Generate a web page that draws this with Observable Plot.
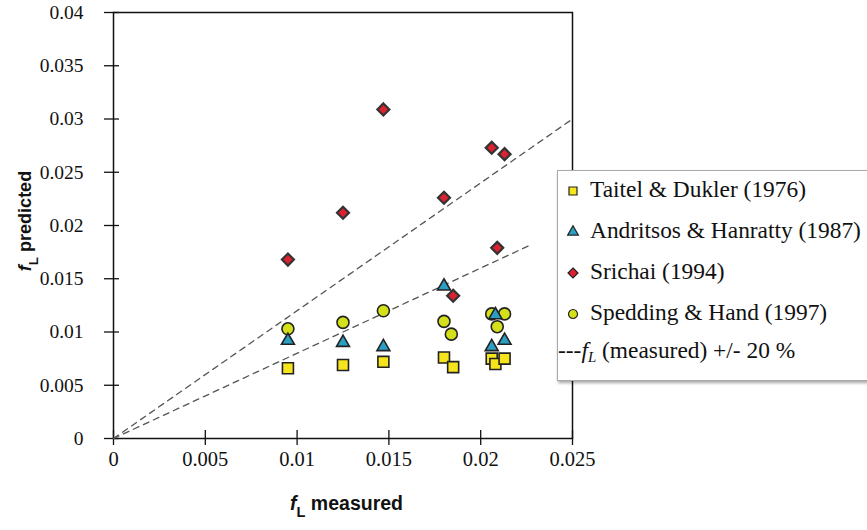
<!DOCTYPE html>
<html><head><meta charset="utf-8">
<script src="https://cdn.jsdelivr.net/npm/d3@7"></script>
<script src="https://cdn.jsdelivr.net/npm/@observablehq/plot@0.6"></script>
<style>
html,body{margin:0;padding:0;background:#fff;overflow:hidden;}
#wrap{position:relative;width:867px;height:530px;}
#legend{position:absolute;left:557px;top:170px;width:340px;height:209px;border:1px solid #aaa;background:#fff;box-shadow:1px 2px 3px rgba(0,0,0,0.35);font-family:'Liberation Serif','Times New Roman',serif;font-size:23.4px;color:#111;}
.row{position:absolute;left:0;height:41px;display:flex;align-items:center;white-space:nowrap;}
.row svg{display:block;}
svg text{font-family:'Liberation Serif','Times New Roman',serif;}
svg text.title{font-family:'Liberation Sans',Arial,sans-serif;}
</style></head><body>
<div id="wrap"><div id="chart"></div><div id="legend"></div></div>
<script>
// ---- tick labels ----
const xTicks = [0, 0.005, 0.01, 0.015, 0.02, 0.025];
const yTicks = [0, 0.005, 0.01, 0.015, 0.02, 0.025, 0.03, 0.035, 0.04];

// ---- series ----
const seriesNames = ["Taitel & Dukler (1976)", "Andritsos & Hanratty (1987)", "Srichai (1994)", "Spedding & Hand (1997)"];
const seriesSymbols = ["square", "triangle", "diamond2", "circle"];
const seriesColors = ["#f6e41c", "#2b9fc3", "#dc2230", "#d3e01a"];

const taitelX = [0.0095, 0.0125, 0.0147, 0.0180, 0.0185, 0.0206, 0.0208, 0.0213];
const taitelY = [0.0066, 0.0069, 0.0072, 0.0076, 0.0067, 0.0075, 0.0070, 0.0075];

const andritsosX = [0.0095, 0.0125, 0.0147, 0.0180, 0.0208, 0.0206, 0.0213];
const andritsosY = [0.0092, 0.0090, 0.0086, 0.0143, 0.0116, 0.0086, 0.0092];

const srichaiX = [0.0095, 0.0125, 0.0147, 0.0180, 0.0185, 0.0206, 0.0213, 0.0209];
const srichaiY = [0.0168, 0.0212, 0.0309, 0.0226, 0.0134, 0.0273, 0.0267, 0.0179];

const speddingX = [0.0095, 0.0125, 0.0147, 0.0180, 0.0184, 0.0206, 0.0213, 0.0209];
const speddingY = [0.0103, 0.0109, 0.0120, 0.0110, 0.0098, 0.0117, 0.0117, 0.0105];

// +/- 20 % reference lines
const upperLineX = [0, 0.025];
const upperLineY = [0, 0.030];
const lowerLineX = [0, 0.0228];
const lowerLineY = [0, 0.01824];

const rows = (xs, ys) => xs.map((x, i) => ({x, y: ys[i]}));

const W = 867, H = 530, ML = 113, MR = 295, MT = 12, MB = 92;
const innerW = W - ML - MR, innerH = H - MT - MB;

const dotStyle = (i, r, extra = {}) => ({x: "x", y: "y", symbol: seriesSymbols[i], r, fill: seriesColors[i], stroke: "#222", strokeWidth: 1.6, ...extra});

const chart = Plot.plot({
  width: W, height: H,
  marginLeft: ML, marginRight: MR, marginTop: MT, marginBottom: MB,
  x: {domain: [0, 0.025], label: null},
  y: {domain: [0, 0.04], label: null},
  style: {fontFamily: "'Liberation Serif','Times New Roman',serif", fontSize: "20px", color: "#111", background: "transparent"},
  marks: [
    Plot.frame({stroke: "#111", strokeWidth: 1.5}),
    Plot.axisX({ticks: xTicks, tickSize: 0, tickPadding: 13, tickFormat: d => String(d), label: null, fontSize: 20.5}),
    Plot.axisY({ticks: yTicks, tickSize: 0, tickPadding: 30, tickFormat: d => String(d), label: null, fontSize: 19.5}),
    Plot.tickY(yTicks, {y: d => d, dx: -9, insetRight: innerW - 15, stroke: "#111", strokeWidth: 1.3}),
    Plot.tickX(xTicks, {x: d => d, dy: 7, insetTop: innerH - 15, stroke: "#111", strokeWidth: 1.3}),
    Plot.line(rows(upperLineX, upperLineY), {x: "x", y: "y", stroke: "#555", strokeWidth: 1.3, strokeDasharray: "6,5"}),
    Plot.line(rows(lowerLineX, lowerLineY), {x: "x", y: "y", stroke: "#555", strokeWidth: 1.3, strokeDasharray: "6,5"}),
    Plot.dot(rows(speddingX, speddingY), dotStyle(3, 6)),
    Plot.dot(rows(taitelX, taitelY), dotStyle(0, 6.2)),
    Plot.dot(rows(andritsosX, andritsosY), dotStyle(1, 4.8)),
    Plot.dot(rows(srichaiX, srichaiY), dotStyle(2, 5.4, {strokeWidth: 2.2, stroke: "#333"}))
  ]
});
document.getElementById("chart").appendChild(chart);

// axis titles with subscript
const svg = d3.select(chart);
function title(g, rest, fs) {
  const t = g.append("text").attr("class", "title").attr("text-anchor", "middle")
    .attr("font-weight", "bold").attr("font-size", fs).attr("fill", "#111");
  t.append("tspan").attr("font-style", "italic").text("f");
  t.append("tspan").attr("font-size", fs * 0.75).attr("dy", 7).text("L");
  t.append("tspan").attr("dy", -7).text(" " + rest);
}
title(svg.append("g").attr("transform", `translate(${ML + innerW / 2 + 4},510)`), "measured", 19.5);
title(svg.append("g").attr("transform", `translate(31,${MT + innerH / 2 - 4}) rotate(-90)`), "predicted", 18);

// legend
const legend = d3.select("#legend");
seriesNames.forEach((name, i) => {
  const row = legend.append("div").attr("class", "row").style("top", (i * 41 - 2) + "px");
  const s = row.append("svg").attr("width", 28).attr("height", 20).style("margin-left", "4px");
  const size = seriesSymbols[i] === "triangle" ? 50 : 64;
  const sym = {square: d3.symbolSquare, triangle: d3.symbolTriangle, diamond2: d3.symbolDiamond2, circle: d3.symbolCircle}[seriesSymbols[i]];
  s.append("path").attr("transform", "translate(11,11)").attr("d", d3.symbol(sym, size)())
    .attr("fill", seriesColors[i]).attr("stroke", "#222").attr("stroke-width", 1.2);
  row.append("span").text(name);
});
const last = legend.append("div").attr("class", "row").style("top", (4 * 41 - 4) + "px");
const sp = last.append("span");
sp.append("span").text("---");
sp.append("i").text("f");
sp.append("i").style("font-size", "15px").style("vertical-align", "-4px").text("L");
sp.append("span").text(" (measured) +/- 20 %");
</script>
</body></html>
